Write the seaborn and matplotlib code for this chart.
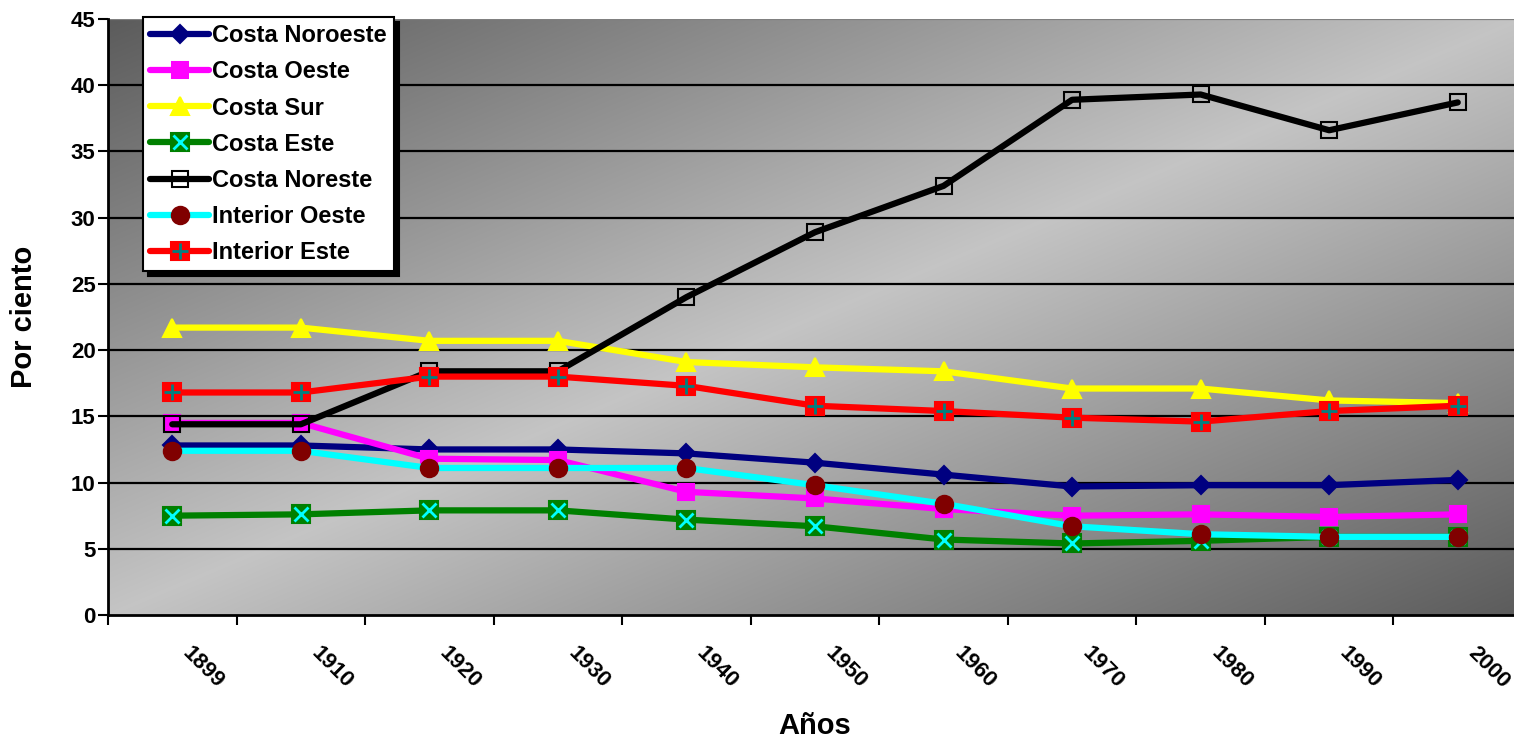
import numpy as np
import pandas as pd
import matplotlib
matplotlib.use("Agg")
import matplotlib.pyplot as plt
import seaborn as sns
from matplotlib.lines import Line2D
from matplotlib.legend_handler import HandlerTuple
from matplotlib.transforms import ScaledTranslation

# ---------------- data ----------------
years = ["1899", "1910", "1920", "1930", "1940", "1950", "1960", "1970", "1980", "1990", "2000"]
costa_noroeste = [12.8, 12.8, 12.5, 12.5, 12.2, 11.5, 10.6, 9.7, 9.8, 9.8, 10.2]
costa_oeste = [14.5, 14.5, 11.8, 11.7, 9.3, 8.8, 8.0, 7.5, 7.6, 7.4, 7.6]
costa_sur = [21.7, 21.7, 20.7, 20.7, 19.1, 18.7, 18.4, 17.1, 17.1, 16.2, 16.0]
costa_este = [7.5, 7.6, 7.9, 7.9, 7.2, 6.7, 5.7, 5.4, 5.6, 5.9, 5.9]
costa_noreste = [14.4, 14.4, 18.4, 18.4, 24.0, 28.9, 32.4, 38.9, 39.3, 36.6, 38.7]
interior_oeste = [12.4, 12.4, 11.1, 11.1, 11.1, 9.8, 8.4, 6.7, 6.1, 5.9, 5.9]
interior_este = [16.8, 16.8, 18.0, 18.0, 17.3, 15.8, 15.4, 14.9, 14.6, 15.4, 15.8]

series_names = ["Costa Noroeste", "Costa Oeste", "Costa Sur", "Costa Este",
                "Costa Noreste", "Interior Oeste", "Interior Este"]
series_values = [costa_noroeste, costa_oeste, costa_sur, costa_este,
                 costa_noreste, interior_oeste, interior_este]

# ---------------- styles ----------------
styles = {
    "Costa Noroeste": dict(color="#000080", marker="D", mfc="#000080", mec="#000080", ms=9.5, extra=None),
    "Costa Oeste": dict(color="#FF00FF", marker="s", mfc="#FF00FF", mec="#FF00FF", ms=11.5, extra=None),
    "Costa Sur": dict(color="#FFFF00", marker="^", mfc="#FFFF00", mec="#FFFF00", ms=12.5, extra=None),
    "Costa Este": dict(color="#008000", marker="s", mfc="#008000", mec="#008000", ms=12.5,
                       extra=dict(marker="x", color="#00FFFF", ms=10, mew=2)),
    "Costa Noreste": dict(color="#000000", marker="s", mfc="none", mec="#000000", ms=11, extra=None),
    "Interior Oeste": dict(color="#00FFFF", marker="o", mfc="#800000", mec="#800000", ms=12.5, extra=None),
    "Interior Este": dict(color="#FF0000", marker="s", mfc="#FF0000", mec="#FF0000", ms=12.5,
                          extra=dict(marker="+", color="#008080", ms=12, mew=2)),
}

sns.set_theme(style="white")
plt.rcParams["font.family"] = ["Liberation Sans", "DejaVu Sans"]
plt.rcParams["font.weight"] = "bold"
for key in ["text.color", "axes.labelcolor", "xtick.color", "ytick.color"]:
    plt.rcParams[key] = "black"

W, H = 1514, 743
fig = plt.figure(figsize=(W / 100, H / 100), dpi=100)
ax_left, ax_right, ax_top, ax_bottom = 108, 1522, 19, 615
ax = fig.add_axes([ax_left / W, (H - ax_bottom) / H, (ax_right - ax_left) / W, (ax_bottom - ax_top) / H])

# background gradient (dark top-left and bottom-right corners, light diagonal)
n = 300
u = np.linspace(0, 1, n)
v = np.linspace(0, 1, n)
U, V = np.meshgrid(u, v)
d = U + V
val = 1 - np.abs(d - 1)
dark, light = 0.36, 0.77
g = dark + (light - dark) * val
img = np.dstack([g, g, g])
ax.imshow(img, extent=(-0.5, 10.5, 0, 45), origin="upper", aspect="auto", zorder=0,
          interpolation="bilinear")

# grid lines
for yv in range(5, 46, 5):
    ax.axhline(yv, color="black" if yv < 45 else "#808080", lw=1.6, zorder=1)

xs = np.arange(len(years))
lw = 4.5
for i, (name, vals) in enumerate(zip(series_names, series_values)):
    st = styles[name]
    z = 3 + i
    df = pd.DataFrame({"x": xs, "y": vals})
    sns.lineplot(data=df, x="x", y="y", ax=ax, color=st["color"], linewidth=lw,
                 marker=st["marker"], markerfacecolor=st["mfc"], markeredgecolor=st["mec"],
                 markersize=st["ms"], markeredgewidth=1.5, zorder=z, legend=False)
    if st["extra"] is not None:
        ex = st["extra"]
        ax.plot(xs, vals, ls="none", marker=ex["marker"], color=ex["color"],
                markersize=ex["ms"], markeredgewidth=ex["mew"], zorder=z + 0.5)

ax.set_xlim(-0.5, 10.5)
ax.set_ylim(0, 45)
ax.set_yticks(range(0, 46, 5))
ax.set_yticklabels([str(t) for t in range(0, 46, 5)], fontsize=16, fontweight="bold", color="black")
ax.set_xticks(xs)
ax.set_xticklabels(years, fontsize=16, fontweight="bold", rotation=-45, ha="center", color="black")
ax.set_xticks(np.arange(-0.5, 11, 1), minor=True)
ax.tick_params(axis="x", which="major", length=0, pad=20, labelcolor="black")
ax.tick_params(axis="x", which="minor", length=7, width=1.5, color="black", direction="out", bottom=True)
ax.tick_params(axis="y", which="major", length=7, width=1.5, color="black", direction="out", left=True,
               pad=2, labelcolor="black")
for lab in ax.get_xticklabels():
    lab.set_transform(lab.get_transform() + ScaledTranslation(0.31, 0, fig.dpi_scale_trans))

for side in ["left", "bottom"]:
    ax.spines[side].set_visible(True)
    ax.spines[side].set_color("black")
    ax.spines[side].set_linewidth(2)
ax.spines["top"].set_visible(False)
ax.spines["right"].set_visible(False)

ax.set_xlabel("Años", fontsize=21, fontweight="bold", color="black")
ax.set_ylabel("Por ciento", fontsize=21, fontweight="bold", color="black")
ax.xaxis.set_label_coords(0.5, -0.163)
ax.yaxis.set_label_coords(-0.0495, 0.5)

# legend
handles = []
for name in series_names:
    st = styles[name]
    h1 = Line2D([], [], color=st["color"], lw=lw, marker=st["marker"], markerfacecolor=st["mfc"],
                markeredgecolor=st["mec"], markersize=st["ms"], markeredgewidth=1.5,
                solid_capstyle="round")
    if st["extra"] is not None:
        ex = st["extra"]
        h2 = Line2D([], [], ls="none", marker=ex["marker"], color=ex["color"],
                    markersize=ex["ms"], markeredgewidth=ex["mew"])
        handles.append((h1, h2))
    else:
        handles.append(h1)

leg = fig.legend(handles, series_names, loc="upper left",
                 bbox_to_anchor=(143 / W, 1 - 17 / H), bbox_transform=fig.transFigure,
                 handler_map={tuple: HandlerTuple(ndivide=1, pad=0)},
                 prop={"size": 17, "weight": "bold"}, handlelength=2.5, handletextpad=0.12,
                 labelspacing=0.56, borderpad=0.3, borderaxespad=0, frameon=True,
                 fancybox=False, framealpha=1, edgecolor="black", labelcolor="black",
                 shadow={"color": "black", "alpha": 1, "ox": 3.5, "oy": -3.5})
leg.get_frame().set_linewidth(1.5)
leg.set_zorder(20)

fig.savefig("out.png", dpi=100)
